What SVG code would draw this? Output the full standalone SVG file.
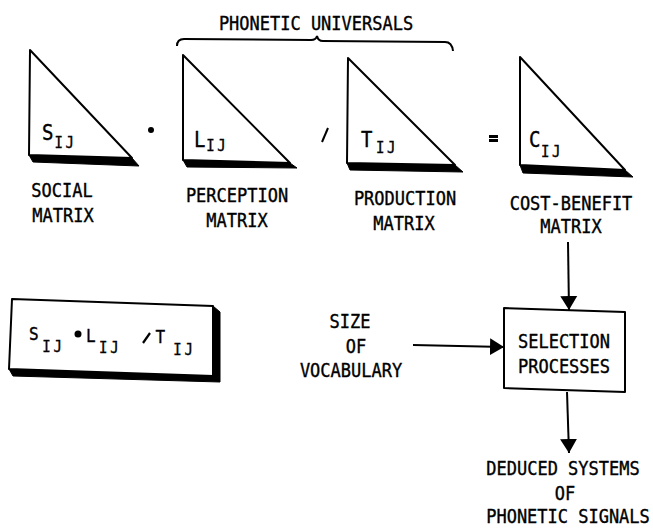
<svg xmlns="http://www.w3.org/2000/svg" width="653" height="531" viewBox="0 0 653 531">
<defs>
<style>
text{font-family:"DejaVu Sans Mono","Liberation Mono",monospace;fill:#000;stroke:#000;stroke-width:0.35}
.t{font-size:17px;text-anchor:middle}
.big{font-size:19px}
.sub{font-size:14px;letter-spacing:2.6px}
.fb{font-size:16px}
.fs{font-size:14px;letter-spacing:2.8px}
.face{fill:#fff;stroke:#000;stroke-width:2;stroke-linejoin:round}
.shadow{fill:#000;stroke:#000;stroke-width:1;stroke-linejoin:round}
.ln{stroke:#000;stroke-width:2;fill:none}
</style>
<marker id="arr" markerUnits="userSpaceOnUse" markerWidth="16" markerHeight="18" refX="14" refY="9" orient="auto">
<path d="M0,0.5 L14,9 L0,17.5 z" fill="#000"/>
</marker>
</defs>
<rect width="653" height="531" fill="#fff"/>

<g id="phonetic-universals">
<path class="ln" d="M177,46 Q177,39 184,39 L311,40 Q316,40 317,36 Q318,41 323,41 L445,42 Q452,42 453,51"/>
<text class="t" transform="translate(316,30) scale(1,1.15)">PHONETIC UNIVERSALS</text>
</g>

<g id="social-matrix">
<polygon class="shadow" points="29,155 132,158 139,166 33,162"/>
<polygon class="face" points="30,50 29,155 132,158"/>
<text class="big" transform="translate(42,140) scale(1,1.15)">S</text>
<text class="sub" transform="translate(54.5,148) scale(1,1.15)">IJ</text>
<text class="t" transform="translate(62,197) scale(1,1.15)">SOCIAL</text>
<text class="t" transform="translate(63,222) scale(1,1.15)">MATRIX</text>
</g>

<g id="op-dot"><circle cx="151" cy="130" r="3" fill="#000"/></g>

<g id="perception-matrix">
<polygon class="shadow" points="183,160 290,163 297,168 187,167"/>
<polygon class="face" points="183,55 183,160 290,163"/>
<text class="big" transform="translate(194,147) scale(1,1.15)">L</text>
<text class="sub" transform="translate(206.3,151) scale(1,1.15)">IJ</text>
<text class="t" transform="translate(237,202) scale(1,1.15)">PERCEPTION</text>
<text class="t" transform="translate(237,227) scale(1,1.15)">MATRIX</text>
</g>

<g id="op-slash"><line class="ln" x1="322" y1="142" x2="328" y2="128"/></g>

<g id="production-matrix">
<polygon class="shadow" points="347,163 455,165 463,172 350,170"/>
<polygon class="face" points="348,58 347,163 455,165"/>
<text class="big" transform="translate(361,147) scale(1,1.15)">T</text>
<text class="sub" transform="translate(376,153) scale(1,1.15)">IJ</text>
<text class="t" transform="translate(405,205) scale(1,1.15)">PRODUCTION</text>
<text class="t" transform="translate(404,230) scale(1,1.15)">MATRIX</text>
</g>

<g id="op-equals">
<line x1="489" y1="136.5" x2="498" y2="136.5" stroke="#000" stroke-width="3"/>
<line x1="489" y1="140.5" x2="498" y2="140.5" stroke="#000" stroke-width="3"/>
</g>

<g id="cost-benefit-matrix">
<polygon class="shadow" points="520,165 625,170 633,177 523,173"/>
<polygon class="face" points="520,57 520,165 625,170"/>
<text class="big" transform="translate(529,147) scale(1,1.15)">C</text>
<text class="sub" transform="translate(541,157) scale(1,1.15)">IJ</text>
<text class="t" transform="translate(571,210) scale(1,1.15)">COST-BENEFIT</text>
<text class="t" transform="translate(571,233) scale(1,1.15)">MATRIX</text>
</g>

<g id="formula-box">
<polygon class="shadow" points="213,306 220,312 220,382 13,376 9,369 213,376"/>
<polygon class="face" points="12,299 213,306 213,376 9,369"/>
<text class="fb" transform="translate(29,340) scale(1,1.15)">S</text>
<text class="fs" transform="translate(42.3,352) scale(1,1.15)">IJ</text>
<circle cx="78" cy="334" r="3.5" fill="#000"/>
<text class="fb" transform="translate(86,342) scale(1,1.15)">L</text>
<text class="fs" transform="translate(99,353) scale(1,1.15)">IJ</text>
<line x1="143" y1="343" x2="150" y2="333" stroke="#000" stroke-width="2.2"/>
<text class="fb" transform="translate(155.5,343) scale(1,1.15)">T</text>
<text class="fs" transform="translate(173.3,355) scale(1,1.15)">IJ</text>
</g>

<g id="size-of-vocabulary">
<text class="t" transform="translate(350,328) scale(1,1.15)">SIZE</text>
<text class="t" transform="translate(356,353) scale(1,1.15)">OF</text>
<text class="t" transform="translate(351,377) scale(1,1.15)">VOCABULARY</text>
</g>

<g id="selection-processes">
<polygon class="face" points="504,308 625,312 625,392 504,388"/>
<text class="t" transform="translate(564,348) scale(1,1.15)">SELECTION</text>
<text class="t" transform="translate(564,373) scale(1,1.15)">PROCESSES</text>
</g>

<g id="deduced-systems">
<text class="t" transform="translate(563,475) scale(1,1.15)">DEDUCED SYSTEMS</text>
<text class="t" transform="translate(565,500) scale(1,1.15)">OF</text>
<text class="t" transform="translate(568,523) scale(1,1.15)">PHONETIC SIGNALS</text>
</g>

<g id="connectors">
<line class="ln" x1="568" y1="242" x2="569" y2="310" marker-end="url(#arr)"/>
<line class="ln" x1="413" y1="345" x2="504" y2="347" marker-end="url(#arr)"/>
<line class="ln" x1="567" y1="392" x2="569" y2="453" marker-end="url(#arr)"/>
</g>
</svg>
